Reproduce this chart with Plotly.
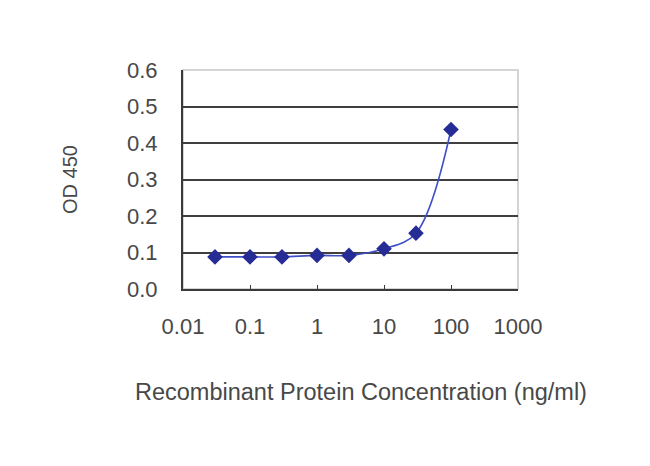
import plotly.graph_objects as go

concentration = [0.03, 0.1, 0.3, 1, 3, 10, 30, 100]
od450 = [0.088, 0.088, 0.088, 0.092, 0.092, 0.110, 0.153, 0.437]
x_ticks = [0.01, 0.1, 1, 10, 100, 1000]
x_tick_labels = ["0.01", "0.1", "1", "10", "100", "1000"]
y_ticks = [0.0, 0.1, 0.2, 0.3, 0.4, 0.5, 0.6]
y_tick_labels = ["0.0", "0.1", "0.2", "0.3", "0.4", "0.5", "0.6"]
x_title = "Recombinant Protein Concentration (ng/ml)"
y_title = "OD 450"

fig = go.Figure()
fig.add_trace(go.Scatter(
    x=concentration, y=od450, mode="lines+markers",
    line=dict(color="#3f4fc8", width=1.6, shape="spline"),
    marker=dict(symbol="diamond", size=12, color="#262c96"),
    showlegend=False,
))

fam = "Liberation Sans, Arial, sans-serif"
tick_font = dict(family=fam, size=22, color="#484848")
title_font = dict(family=fam, size=23.5, color="#484848")

fig.update_layout(
    width=650, height=466,
    margin=dict(l=175, r=140, t=62, b=185),
    paper_bgcolor="white", plot_bgcolor="white",
    font=tick_font,
    xaxis=dict(
        type="log", range=[-2, 3],
        tickvals=x_ticks, ticktext=x_tick_labels, tickfont=tick_font,
        showgrid=False, zeroline=False,
        showline=True, linecolor="#3a3a3a", linewidth=2, mirror=False,
        ticks="inside", ticklen=4, tickcolor="#3a3a3a",
        ticklabelstandoff=17,
    ),
    yaxis=dict(
        range=[0, 0.6],
        tickvals=y_ticks, ticktext=y_tick_labels, tickfont=tick_font,
        showgrid=True, gridcolor="#3f3f3f", gridwidth=2,
        zeroline=False,
        showline=True, linecolor="#3a3a3a", linewidth=2,
        ticks="", ticklabelstandoff=19,
        title=dict(text=y_title, standoff=44, font=dict(family=fam, size=20, color="#484848")),
    ),
    annotations=[dict(text=x_title, xref="paper", yref="paper", x=0.53, y=-0.47,
                      xanchor="center", yanchor="middle", showarrow=False, font=title_font)],
    shapes=[dict(type="rect", xref="paper", yref="paper", x0=0, x1=1, y0=0, y1=1,
                 line=dict(color="#c8c8c8", width=1.5), layer="below")],
)

fig.write_html("out.html")
